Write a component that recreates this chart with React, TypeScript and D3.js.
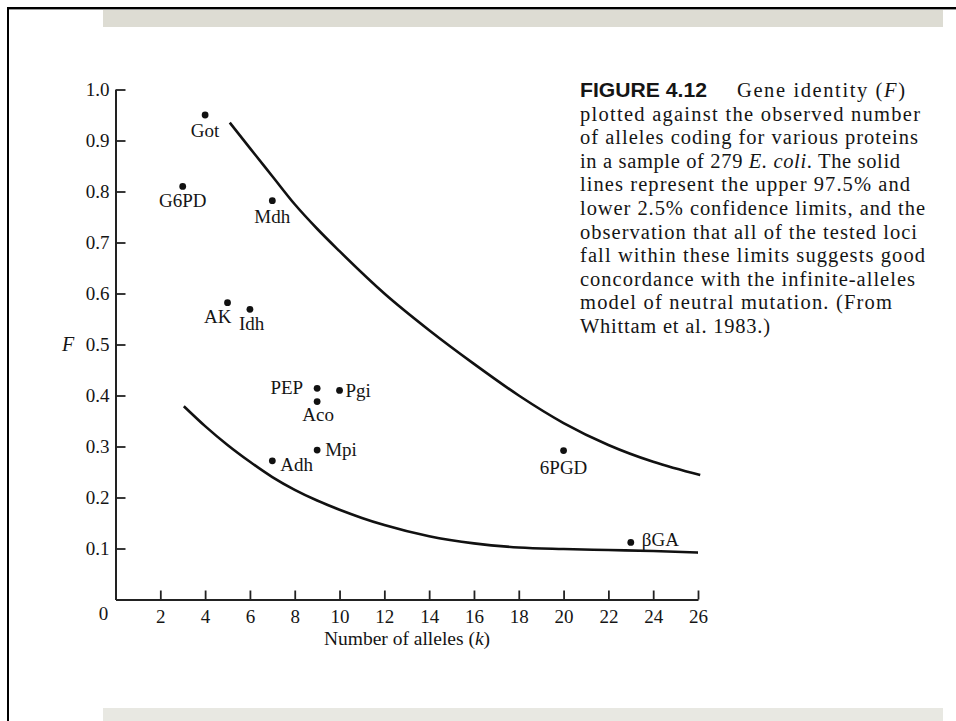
import React, { useEffect, useRef } from "react";
import * as d3 from "d3";

// ---- data ----
const lociNames = ["Got", "G6PD", "Mdh", "AK", "Idh", "PEP", "Pgi", "Aco", "Mpi", "Adh", "6PGD", "βGA"];
const lociK = [4, 3, 7, 5, 6, 9, 10, 9, 9, 7, 20, 23];
const lociF = [0.95, 0.81, 0.782, 0.582, 0.569, 0.414, 0.41, 0.388, 0.293, 0.272, 0.292, 0.112];

const upperK = [5.1, 6, 7, 8, 9, 10, 12, 14, 16, 18, 20, 22, 24, 26.1];
const upperF = [0.935, 0.885, 0.83, 0.775, 0.727, 0.683, 0.6, 0.528, 0.462, 0.4, 0.346, 0.303, 0.27, 0.244];

const lowerK = [3.05, 4, 5, 6, 7, 8, 9, 10, 11, 12, 14, 16, 18, 20, 22, 24, 26];
const lowerF = [0.379, 0.34, 0.303, 0.27, 0.24, 0.215, 0.194, 0.176, 0.16, 0.146, 0.124, 0.11, 0.102, 0.099, 0.097, 0.095, 0.092];

const xTicks = [2, 4, 6, 8, 10, 12, 14, 16, 18, 20, 22, 24, 26];
const yTicks = [0.1, 0.2, 0.3, 0.4, 0.5, 0.6, 0.7, 0.8, 0.9, 1.0];

const captionLines = [
  "plotted against the observed number",
  "of alleles coding for various proteins",
  "in a sample of 279 |E. coli|. The solid",
  "lines represent the upper 97.5% and",
  "lower 2.5% confidence limits, and the",
  "observation that all of the tested loci",
  "fall within these limits suggests good",
  "concordance with the infinite-alleles",
  "model of neutral mutation. (From",
  "Whittam et al. 1983.)",
];
const captionWidths = [340, 338, 320, 330, 345, 337, 345, 335, 312, 190];

// label placement: [dx, dy, anchor]
const labelPos: [number, number, string][] = [
  [0, 22, "middle"],
  [0, 21, "middle"],
  [0, 22, "middle"],
  [4, 20, "end"],
  [-11, 21, "start"],
  [-14, 6, "end"],
  [6, 7, "start"],
  [1, 19, "middle"],
  [8, 6, "start"],
  [8, 10, "start"],
  [0, 23, "middle"],
  [11, 4, "start"],
];

const W = 956;
const H = 721;
const SERIF = "'Liberation Serif', 'Times New Roman', serif";
const INK = "#151515";

export default function App() {
  const ref = useRef<SVGGElement>(null);

  useEffect(() => {
    const g = d3.select(ref.current);
    g.selectAll("*").remove();

    const x = d3.scaleLinear().domain([0, 26]).range([115.5, 698]);
    const y = d3.scaleLinear().domain([0, 1]).range([599.5, 89.5]);

    // axes
    const xAxis = d3.axisBottom(x).tickValues(xTicks).tickSizeInner(-9).tickSizeOuter(0).tickPadding(10);
    const yAxis = d3.axisLeft(y).tickValues(yTicks).tickSizeInner(-10).tickSizeOuter(0).tickPadding(7)
      .tickFormat(d3.format(".1f"));

    const gx = g.append("g").attr("transform", `translate(0,${y(0)})`).call(xAxis);
    const gy = g.append("g").attr("transform", `translate(${x(0)},0)`).call(yAxis);
    [gx, gy].forEach((a) => {
      a.select(".domain").attr("stroke", "#222").attr("stroke-width", 2);
      a.selectAll(".tick line").attr("stroke", "#222").attr("stroke-width", 1.8);
      a.selectAll(".tick text").attr("font-family", SERIF).attr("font-size", 19).attr("fill", INK);
    });
    gy.selectAll(".tick text").attr("x", -6);

    // origin 0
    g.append("text").attr("x", 103.5).attr("y", y(0) + 20).attr("text-anchor", "middle")
      .attr("font-family", SERIF).attr("font-size", 19).attr("fill", INK).text("0");

    // axis titles
    const xt = g.append("text").attr("x", 407).attr("y", 645).attr("text-anchor", "middle")
      .attr("font-family", SERIF).attr("font-size", 19.5).attr("fill", INK);
    xt.append("tspan").text("Number of alleles (");
    xt.append("tspan").attr("font-style", "italic").text("k");
    xt.append("tspan").text(")");

    g.append("text").attr("x", 68).attr("y", 351).attr("text-anchor", "middle")
      .attr("font-family", SERIF).attr("font-size", 20).attr("font-style", "italic").attr("fill", INK).text("F");

    // curves
    const line = d3.line<[number, number]>().x((d) => x(d[0])).y((d) => y(d[1])).curve(d3.curveMonotoneX);
    const upper = upperK.map((k, i) => [k, upperF[i]] as [number, number]);
    const lower = lowerK.map((k, i) => [k, lowerF[i]] as [number, number]);
    [upper, lower].forEach((pts) => {
      g.append("path").attr("d", line(pts)).attr("fill", "none").attr("stroke", "#111").attr("stroke-width", 2.6);
    });

    // points
    lociNames.forEach((name, i) => {
      const px = x(lociK[i]);
      const py = y(lociF[i]);
      g.append("circle").attr("cx", px).attr("cy", py).attr("r", 3.4).attr("fill", "#111");
      const [dx, dy, anchor] = labelPos[i];
      g.append("text").attr("x", px + dx).attr("y", py + dy).attr("text-anchor", anchor)
        .attr("font-family", SERIF).attr("font-size", 19).attr("fill", INK).text(name);
    });

    // caption
    const cap = g.append("g");
    cap.append("text").attr("x", 580).attr("y", 97)
      .attr("font-family", "'Liberation Sans', Arial, sans-serif").attr("font-weight", "bold")
      .attr("font-size", 19.5).attr("fill", INK).attr("textLength", 127).attr("lengthAdjust", "spacingAndGlyphs")
      .text("FIGURE 4.12");
    const l1 = cap.append("text").attr("x", 737).attr("y", 97).attr("font-family", SERIF)
      .attr("font-size", 20.5).attr("fill", INK).attr("textLength", 168).attr("lengthAdjust", "spacing");
    l1.append("tspan").text("Gene identity (");
    l1.append("tspan").attr("font-style", "italic").text("F");
    l1.append("tspan").text(")");

    captionLines.forEach((ln, i) => {
      const t = cap.append("text").attr("x", 580).attr("y", 97 + (i + 1) * 23.6)
        .attr("font-family", SERIF).attr("font-size", 20.5).attr("fill", INK)
        .attr("textLength", captionWidths[i]).attr("lengthAdjust", "spacing");
      ln.split("|").forEach((part, j) => {
        t.append("tspan").attr("font-style", j % 2 === 1 ? "italic" : "normal").text(part);
      });
    });
  }, []);

  return (
    <svg width={W} height={H} style={{ position: "absolute", left: 0, top: 0, background: "#fff" }}>
      <rect x={0} y={0} width={W} height={H} fill="#fff" />
      <rect x={103} y={9} width={840} height={18} fill="#dddcd3" />
      <rect x={103} y={708} width={840} height={13} fill="#e8e8e2" />
      <line x1={7} y1={8} x2={956} y2={8} stroke="#000" strokeWidth={2} />
      <line x1={9} y1={9.5} x2={956} y2={9.5} stroke="#999" strokeWidth={1} />
      <line x1={8} y1={7} x2={8} y2={721} stroke="#000" strokeWidth={2} />
      <g ref={ref} />
    </svg>
  );
}
